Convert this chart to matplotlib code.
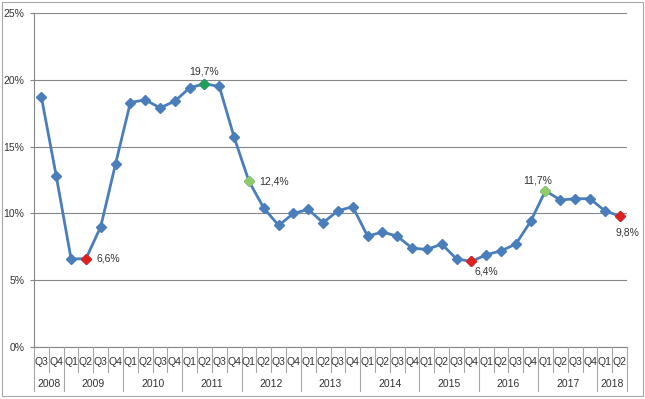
import matplotlib
matplotlib.use("Agg")
import matplotlib.pyplot as plt
import matplotlib.transforms as mtransforms
from matplotlib.patches import Rectangle

plt.rcParams['font.family'] = ['Liberation Sans', 'DejaVu Sans']

years = ["2008", "2009", "2010", "2011", "2012", "2013", "2014", "2015", "2016", "2017", "2018"]
year_quarters = [["Q3", "Q4"]] + [["Q1", "Q2", "Q3", "Q4"]] * 9 + [["Q1", "Q2"]]
values = [18.7, 12.8, 6.6, 6.6, 9.0, 13.7, 18.3, 18.5, 17.9, 18.4,
          19.4, 19.7, 19.5, 15.7, 12.4, 10.4, 9.1, 10.0, 10.3, 9.3,
          10.2, 10.5, 8.3, 8.6, 8.3, 7.4, 7.3, 7.7, 6.6, 6.4,
          6.9, 7.2, 7.7, 9.4, 11.7, 11.0, 11.1, 11.1, 10.2, 9.8]
# highlighted points: index, colour
highlight_idx = [3, 11, 14, 29, 34, 39]
highlight_col = ["#E0201C", "#1FA05A", "#8FCB66", "#E0201C", "#8FCB66", "#E0201C"]
y_ticks = [0, 5, 10, 15, 20, 25]

# label placement (pixel offsets, alignment) - styling only
label_style = {3: (11, 0, "left"), 11: (0, 12, "center"), 14: (10, 0, "left"),
               29: (15, -10, "center"), 34: (-8, 10, "center"), 39: (8, -16, "center")}

quarters = [q for qs in year_quarters for q in qs]
x = list(range(len(values)))

W, H = 645, 399
fig = plt.figure(figsize=(W / 100, H / 100), dpi=100)
fig.patch.set_facecolor("white")
fig.add_artist(Rectangle((2 / W, 3 / H), (W - 4) / W, (H - 5) / H, transform=fig.transFigure,
                         fill=False, edgecolor="#A6A6A6", linewidth=0.8))

left, right, top, bottom = 34, 627, 13, 347
ax = fig.add_axes([left / W, (H - bottom) / H, (right - left) / W, (bottom - top) / H])
ax.set_xlim(-0.5, len(values) - 0.5)
ax.set_ylim(0, 25)
for s in ["top", "right", "bottom"]:
    ax.spines[s].set_visible(False)
ax.spines["left"].set_color("#868686")
ax.spines["left"].set_linewidth(0.8)
ax.set_yticks(y_ticks)
ax.set_yticklabels([f"{t}%" for t in y_ticks], fontsize=7.5, color="#333333")
ax.tick_params(axis="y", length=3, color="#868686", pad=4)
for t in y_ticks:
    ax.axhline(t, color="#868686", linewidth=0.8, zorder=1)

ax.set_xticks([])

ax.plot(x, values, color="#4A7EBB", linewidth=2.0, marker="D", markersize=4.8,
        markerfacecolor="#4A7EBB", markeredgecolor="#4A7EBB", zorder=3)

for idx, col in zip(highlight_idx, highlight_col):
    ax.plot([idx], [values[idx]], marker="D", markersize=4.8, color=col, zorder=4, linestyle="none")
    lab = f"{values[idx]:.1f}%".replace(".", ",")
    dx, dy, ha = label_style[idx]
    ax.annotate(lab, (idx, values[idx]), xytext=(dx, dy), textcoords="offset pixels",
                ha=ha, va="center", fontsize=7.5, color="#333333")

# category axis table
trans = mtransforms.blended_transform_factory(ax.transData, ax.transAxes)
hpx = bottom - top
q_y = -(362 - bottom) / hpx
y_y = -(384 - bottom) / hpx
short_end = -(372 - bottom) / hpx
long_end = -(391 - bottom) / hpx
ax.plot([-0.5, len(values) - 0.5], [0, 0], transform=trans, color="#868686", linewidth=0.8,
        clip_on=False, zorder=2)
for i, q in enumerate(quarters):
    ax.text(i, q_y, q, transform=trans, ha="center", va="center", fontsize=7.5, color="#333333")
pos = 0
bounds = [pos]
for yr, qs in zip(years, year_quarters):
    start = pos
    pos += len(qs)
    bounds.append(pos)
    ax.text((start + pos - 1) / 2, y_y, yr, transform=trans, ha="center", va="center",
            fontsize=7.5, color="#333333")
for i in range(len(values) + 1):
    end = long_end if i in bounds else short_end
    ax.plot([i - 0.5, i - 0.5], [0, end], transform=trans, color="#A6A6A6", linewidth=0.8,
            clip_on=False, zorder=2)

fig.savefig("out.png", dpi=100, facecolor="white")
